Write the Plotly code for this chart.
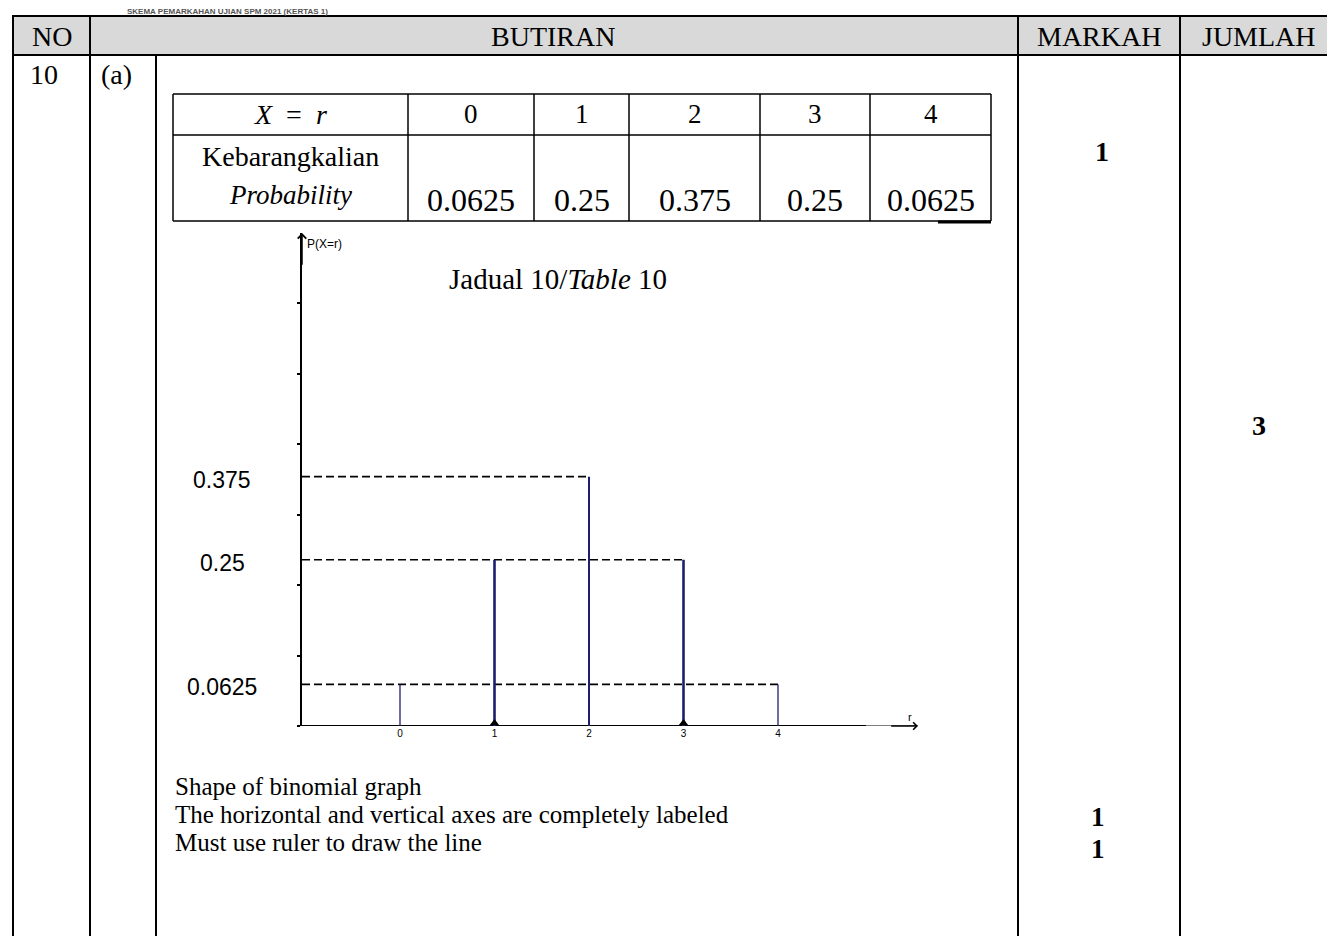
import plotly.graph_objects as go

# ---------------- data ----------------
header_cols = ["NO", "BUTIRAN", "MARKAH", "JUMLAH"]
question_no = "10"
part_label = "(a)"
r_values = [0, 1, 2, 3, 4]
probs = [0.0625, 0.25, 0.375, 0.25, 0.0625]
prob_labels = ["0.0625", "0.25", "0.375", "0.25", "0.0625"]
y_axis_labels = ["0.375", "0.25", "0.0625"]
y_axis_label_vals = [0.375, 0.25, 0.0625]
marked_r = [1, 3]
table_caption = "Jadual 10/<i>Table</i> 10"
criteria = [
    "Shape of binomial graph",
    "The horizontal and vertical axes are completely labeled",
    "Must use ruler to draw the line",
]
marks_top = "1"
marks_criteria = ["1", "1"]
total_marks = "3"

# ---------------- layout helpers ----------------
W, H = 1335, 936
SERIF = "Liberation Serif, Times New Roman, serif"
SANS = "Liberation Sans, Arial, sans-serif"


def px(x):
    return x / W


def py(y):
    return 1 - y / H


shapes = []
annotations = []


def hline(x0, x1, y, w=2, color="black"):
    shapes.append(dict(type="line", xref="paper", yref="paper", x0=px(x0), x1=px(x1),
                       y0=py(y), y1=py(y), line=dict(color=color, width=w)))


def vline(x, y0, y1, w=2, color="black"):
    shapes.append(dict(type="line", xref="paper", yref="paper", x0=px(x), x1=px(x),
                       y0=py(y0), y1=py(y1), line=dict(color=color, width=w)))


def text(t, x, y, size=28, font=SERIF, xanchor="center", color="black"):
    annotations.append(dict(text=t, xref="paper", yref="paper", x=px(x), y=py(y),
                            xanchor=xanchor, yanchor="middle", showarrow=False,
                            font=dict(family=font, size=size, color=color)))


# ---------------- outer table ----------------
shapes.append(dict(type="rect", xref="paper", yref="paper", x0=px(5), x1=px(1329),
                   y0=py(47), y1=py(8), fillcolor="#d9d9d9", line=dict(width=0), layer="below"))
hline(4, 1330, 8)
hline(4, 1330, 47)
col_x = [5, 82, 1010, 1172, 1329]
for x in col_x:
    vline(x, 7, 936)
vline(148, 47, 936)

header_centers = [43.5, 545, 1091, 1251]
for h, cx in zip(header_cols, header_centers):
    text(h, cx, 28, size=28)

text(question_no, 36, 67, size=28)
text(part_label, 109, 67, size=28)

# small heading at very top (partly hidden behind the page edge in the source)
text("<b>SKEMA PEMARKAHAN UJIAN SPM 2021 (KERTAS 1)</b>", 220, 4, size=8, font=SANS,
     color="#555555")

# ---------------- inner probability table ----------------
it_x = [165, 400, 526, 621, 752, 862, 983]
it_y = [86, 127, 213]
for y in it_y:
    hline(it_x[0], it_x[-1], y, w=1.5)
for x in it_x:
    vline(x, it_y[0], it_y[-1], w=1.5)
hline(930, 983, 214, w=3)

first_cx = (it_x[0] + it_x[1]) / 2
text("<i>X</i>&nbsp;&nbsp;=&nbsp;&nbsp;<i>r</i>", first_cx, 106, size=28)
text("Kebarangkalian", first_cx, 148, size=28)
text("<i>Probability</i>", first_cx, 187, size=27)
for i, (r, lab) in enumerate(zip(r_values, prob_labels)):
    cx = (it_x[i + 1] + it_x[i + 2]) / 2
    text(str(r), cx, 106, size=27)
    text(lab, cx, 192, size=32)

text(table_caption, 550, 271, size=29)

# ---------------- marks ----------------
text("<b>" + marks_top + "</b>", 1094, 143, size=28)
text("<b>" + total_marks + "</b>", 1251, 418, size=28)
crit_y = [778.5, 806.5, 834.5]
for t, y in zip(criteria, crit_y):
    text(t, 165, y, size=25, xanchor="left")
for m, y in zip(marks_criteria, [809, 841]):
    text("<b>" + m + "</b>", 1090, y, size=27)

# ---------------- chart ----------------
plot_left, plot_right = 294, 910
plot_bottom, plot_top = 718, 225
x_px_per_unit = 94.5
r0_px = 392
x_range = [(plot_left - r0_px) / x_px_per_unit, (plot_right - r0_px) / x_px_per_unit]
y_px_per_unit = 665.0
y_range = [0, (plot_bottom - plot_top) / y_px_per_unit]
y_tick_step = 0.106
axis_thick_end = (858 - r0_px) / x_px_per_unit

fig = go.Figure()

# horizontal axis: thick part then thinner lead-in to the arrow
fig.add_trace(go.Scatter(x=[x_range[0], axis_thick_end], y=[0, 0], mode="lines",
                         line=dict(color="black", width=2.2), hoverinfo="skip",
                         showlegend=False, cliponaxis=False))
fig.add_trace(go.Scatter(x=[axis_thick_end, x_range[1]], y=[0, 0], mode="lines",
                         line=dict(color="black", width=1.2), hoverinfo="skip",
                         showlegend=False, cliponaxis=False))

# dashed guide lines from the y-axis to the farthest stem with that probability
for p in sorted(set(probs)):
    r_far = max(r for r, q in zip(r_values, probs) if q == p)
    fig.add_trace(go.Scatter(x=[x_range[0], r_far], y=[p, p], mode="lines",
                             line=dict(color="black", width=1.7, dash="8px,4px"),
                             hoverinfo="skip", showlegend=False))

# stems
stem_widths = [1.3, 2.6, 2.0, 2.6, 1.3]
for r, p, w in zip(r_values, probs, stem_widths):
    fig.add_trace(go.Scatter(x=[r, r], y=[0, p], mode="lines",
                             line=dict(color="#1c1f6e", width=w),
                             hoverinfo="skip", showlegend=False))

# small triangles at the base of marked stems
tri_y = 3.0 / y_px_per_unit
fig.add_trace(go.Scatter(x=marked_r, y=[tri_y] * len(marked_r), mode="markers",
                         marker=dict(symbol="triangle-up", size=8, color="black"),
                         hoverinfo="skip", showlegend=False))

# axis arrows
annotations.append(dict(x=x_range[1], y=0, ax=x_range[1] - 0.3, ay=0, xref="x", yref="y",
                        axref="x", ayref="y", text="", showarrow=True, arrowhead=4,
                        arrowsize=1.1, arrowwidth=1.3, arrowcolor="black"))
annotations.append(dict(x=x_range[0], y=y_range[1], ax=x_range[0], ay=y_range[1] - 0.05,
                        xref="x", yref="y", axref="x", ayref="y", text="", showarrow=True,
                        arrowhead=4, arrowsize=1.1, arrowwidth=1.5, arrowcolor="black"))

# axis titles
annotations.append(dict(text="P(X=r)", xref="paper", yref="paper", x=px(297), y=py(236),
                        xanchor="left", yanchor="middle", showarrow=False,
                        font=dict(family=SANS, size=12, color="black")))
annotations.append(dict(text="r", xref="paper", yref="paper", x=px(902), y=py(709),
                        xanchor="center", yanchor="middle", showarrow=False,
                        font=dict(family=SANS, size=11, color="black")))

# y-axis value labels
for lab, v in zip(y_axis_labels, y_axis_label_vals):
    annotations.append(dict(text=lab, xref="paper", yref="y", x=px(214), y=v, yshift=-3,
                            xanchor="center", yanchor="middle", showarrow=False,
                            font=dict(family=SANS, size=23, color="black")))

fig.update_layout(
    width=W, height=H, autosize=False,
    margin=dict(l=0, r=0, t=0, b=0),
    paper_bgcolor="white", plot_bgcolor="rgba(0,0,0,0)",
    showlegend=False,
    shapes=shapes,
    annotations=annotations,
    xaxis=dict(domain=[px(plot_left), px(plot_right)], range=x_range,
               showgrid=False, zeroline=False, showline=False,
               tickmode="array", tickvals=r_values,
               ticktext=[str(r) for r in r_values], ticks="",
               tickfont=dict(family=SANS, size=10, color="black"), fixedrange=True),
    yaxis=dict(domain=[py(plot_bottom), py(plot_top)], range=y_range,
               showgrid=False, zeroline=False, showline=True, linecolor="black",
               linewidth=2, tick0=0, dtick=y_tick_step, ticks="outside", ticklen=3,
               tickwidth=1.5, tickcolor="black", showticklabels=False, fixedrange=True),
)

fig.write_html("out.html")
